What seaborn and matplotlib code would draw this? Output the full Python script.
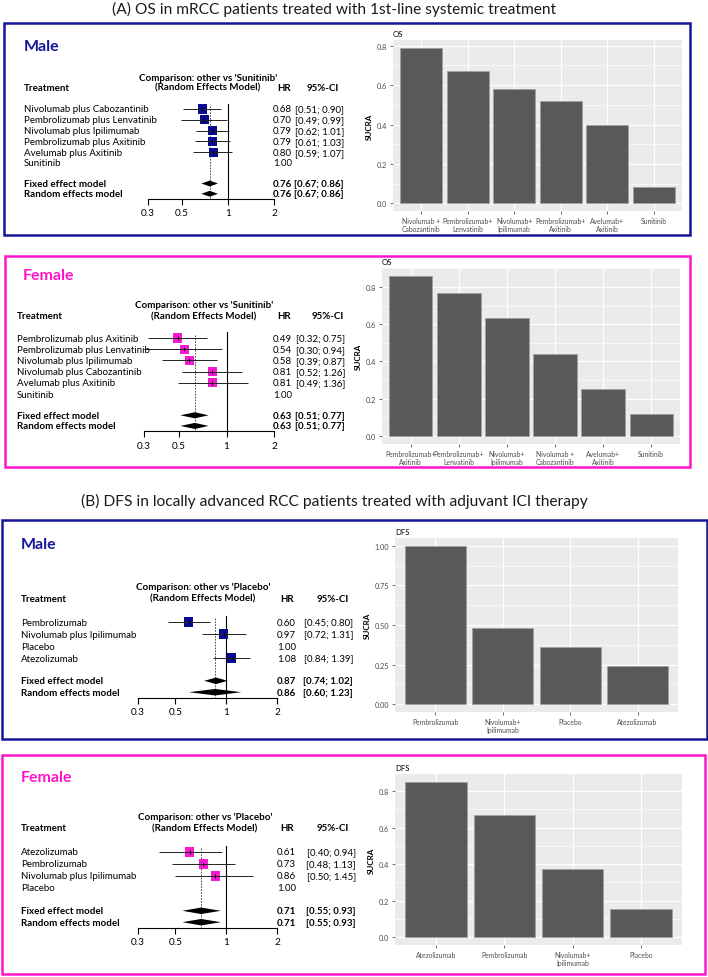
import numpy as np
import matplotlib
matplotlib.use("Agg")
import matplotlib.pyplot as plt
import matplotlib.transforms as mtransforms
from matplotlib.patches import Rectangle
from matplotlib.ticker import MultipleLocator, NullLocator, FormatStrFormatter
import seaborn as sns

W, H = 708, 978

# ---------------- forest plot data (HR, 95% CI) ----------------
os_male_trt = ["Nivolumab plus Cabozantinib", "Pembrolizumab plus Lenvatinib", "Nivolumab plus Ipilimumab",
               "Pembrolizumab plus Axitinib", "Avelumab plus Axitinib", "Sunitinib"]
os_male_hr = [0.68, 0.70, 0.79, 0.79, 0.80, 1.00]
os_male_lo = [0.51, 0.49, 0.62, 0.61, 0.59, np.nan]
os_male_hi = [0.90, 0.99, 1.01, 1.03, 1.07, np.nan]
os_male_fixed = [0.76, 0.67, 0.86]
os_male_random = [0.76, 0.67, 0.86]

os_female_trt = ["Pembrolizumab plus Axitinib", "Pembrolizumab plus Lenvatinib", "Nivolumab plus Ipilimumab",
                 "Nivolumab plus Cabozantinib", "Avelumab plus Axitinib", "Sunitinib"]
os_female_hr = [0.49, 0.54, 0.58, 0.81, 0.81, 1.00]
os_female_lo = [0.32, 0.30, 0.39, 0.52, 0.49, np.nan]
os_female_hi = [0.75, 0.94, 0.87, 1.26, 1.36, np.nan]
os_female_fixed = [0.63, 0.51, 0.77]
os_female_random = [0.63, 0.51, 0.77]

dfs_male_trt = ["Pembrolizumab", "Nivolumab plus Ipilimumab", "Placebo", "Atezolizumab"]
dfs_male_hr = [0.60, 0.97, 1.00, 1.08]
dfs_male_lo = [0.45, 0.72, np.nan, 0.84]
dfs_male_hi = [0.80, 1.31, np.nan, 1.39]
dfs_male_fixed = [0.87, 0.74, 1.02]
dfs_male_random = [0.86, 0.60, 1.23]

dfs_female_trt = ["Atezolizumab", "Pembrolizumab", "Nivolumab plus Ipilimumab", "Placebo"]
dfs_female_hr = [0.61, 0.73, 0.86, 1.00]
dfs_female_lo = [0.40, 0.48, 0.50, np.nan]
dfs_female_hi = [0.94, 1.13, 1.45, np.nan]
dfs_female_fixed = [0.71, 0.55, 0.93]
dfs_female_random = [0.71, 0.55, 0.93]

# ---------------- SUCRA bar data ----------------
os_male_sucra_lab = ["Nivolumab +\nCabozantinib", "Pembrolizumab+\nLenvatinib", "Nivolumab+\nIpilimumab",
                     "Pembrolizumab+\nAxitinib", "Avelumab+\nAxitinib", "Sunitinib"]
os_male_sucra = [0.79, 0.67, 0.578, 0.52, 0.40, 0.081]

os_female_sucra_lab = ["Pembrolizumab+\nAxitinib", "Pembrolizumab+\nLenvatinib", "Nivolumab+\nIpilimumab",
                       "Nivolumab +\nCabozantinib", "Avelumab+\nAxitinib", "Sunitinib"]
os_female_sucra = [0.859, 0.768, 0.635, 0.442, 0.25, 0.12]

dfs_male_sucra_lab = ["Pembrolizumab", "Nivolumab+\nIpilimumab", "Placebo", "Atezolizumab"]
dfs_male_sucra = [1.0, 0.48, 0.36, 0.24]

dfs_female_sucra_lab = ["Atezolizumab", "Pembrolizumab", "Nivolumab+\nIpilimumab", "Placebo"]
dfs_female_sucra = [0.851, 0.667, 0.376, 0.155]

NAVY = "#16169a"
MAGENTA = "#ff14cc"

plt.rcParams["font.family"] = ["Lato", "DejaVu Sans"]
fig = plt.figure(figsize=(W / 100, H / 100), dpi=100)


def box(x0, y0, x1, y1, color):
    fig.add_artist(Rectangle((x0 / W, 1 - y1 / H), (x1 - x0) / W, (y1 - y0) / H,
                             transform=fig.transFigure, fill=False, ec=color, lw=1.8))


def forest(trt, hr, lo, hi, fixed, random, ref, sq_color, title, title_color, lay):
    n = len(trt)
    x03, x2, row0, sp = lay["x03"], lay["x2"], lay["row0"], lay["sp"]
    bottom_row = n + 2.3
    top_px = row0 - 0.5 * sp
    bot_px = row0 + bottom_row * sp
    ax = fig.add_axes([x03 / W, 1 - bot_px / H, (x2 - x03) / W, (bot_px - top_px) / H])
    ax.set_xscale("log")
    ax.set_xlim(0.3, 2)
    ax.set_ylim(bottom_row, -0.5)
    ax.patch.set_alpha(0)

    rows = np.arange(n)
    fr, rr = n + 0.9, n + 1.85

    # reference line and pooled (random) estimate line
    ax.plot([1, 1], [-0.5, bottom_row], color="black", lw=0.8, clip_on=False)
    ax.plot([random[0]] * 2, [-0.3, bottom_row], color="#333333", lw=0.6, ls=(0, (2, 1.5)), clip_on=False)

    # CIs and squares
    ax.hlines(rows, lo, hi, color="#222222", lw=0.7, zorder=3, clip_on=False)
    mask = ~np.isnan(np.array(lo, dtype=float))
    sns.scatterplot(x=np.array(hr)[mask], y=rows[mask], marker="s", s=42, color=sq_color,
                    edgecolor="none", ax=ax, legend=False, zorder=2, clip_on=False)
    ax.scatter(np.array(hr)[mask], rows[mask], marker="|", s=10, color="black", lw=0.6, zorder=4)

    # diamonds
    for est, y in ((fixed, fr), (random, rr)):
        ax.fill([est[1], est[0], est[2], est[0]], [y, y - 0.27, y, y + 0.27],
                color="black", lw=0, clip_on=False, zorder=3)

    # axis
    for s in ("top", "left", "right"):
        ax.spines[s].set_visible(False)
    ax.spines["bottom"].set_bounds(0.3, 2)
    ax.spines["bottom"].set_linewidth(0.8)
    ax.set_xticks([0.3, 0.5, 1, 2])
    ax.set_xticklabels(["0.3", "0.5", "1", "2"])
    ax.xaxis.set_minor_locator(NullLocator())
    ax.tick_params(axis="x", length=4, width=0.8, labelsize=7.2, pad=3)
    ax.set_yticks([])

    tr = mtransforms.blended_transform_factory(fig.transFigure, ax.transData)
    fs = 7.0
    # headers
    ax.text(lay["cmp"] / W, -2.95, "Comparison: other vs '%s'" % ref, transform=tr, ha="center",
            va="center", fontsize=fs, fontweight="bold")
    ax.text(lay["cmp"] / W, -2.0, "(Random Effects Model)", transform=tr, ha="center",
            va="center", fontsize=fs, fontweight="bold")
    ax.text(lay["lab"] / W, -2.0, "Treatment", transform=tr, ha="left", va="center",
            fontsize=fs, fontweight="bold")
    ax.text(lay["hdr_hr"] / W, -2.0, "HR", transform=tr, ha="center", va="center",
            fontsize=fs, fontweight="bold")
    ax.text(lay["hdr_ci"] / W, -2.0, "95%-CI", transform=tr, ha="center", va="center",
            fontsize=fs, fontweight="bold")
    # rows
    for i in range(n):
        ax.text(lay["lab"] / W, i, trt[i], transform=tr, ha="left", va="center", fontsize=fs)
        ax.text(lay["hr"] / W, i, "%.2f" % hr[i], transform=tr, ha="right", va="center", fontsize=fs)
        if not np.isnan(lo[i]):
            ax.text(lay["ci"] / W, i, "[%.2f; %.2f]" % (lo[i], hi[i]), transform=tr, ha="right",
                    va="center", fontsize=fs)
    for name, est, y in (("Fixed effect model", fixed, fr), ("Random effects model", random, rr)):
        ax.text(lay["lab"] / W, y, name, transform=tr, ha="left", va="center", fontsize=fs,
                fontweight="bold")
        ax.text(lay["hr"] / W, y, "%.2f" % est[0], transform=tr, ha="right", va="center",
                fontsize=fs, fontweight="bold")
        ax.text(lay["ci"] / W, y, "[%.2f; %.2f]" % (est[1], est[2]), transform=tr, ha="right",
                va="center", fontsize=fs, fontweight="bold")
    fig.text(lay["tx"] / W, 1 - lay["ty"] / H, title, color=title_color, fontsize=11.5,
             fontweight="bold", ha="left", va="center")


def sucra_bar(labels, vals, title, rect, step):
    l, t, r, b = rect
    ax = fig.add_axes([l / W, 1 - b / H, (r - l) / W, (b - t) / H])
    sns.barplot(x=labels, y=vals, color="#595959", width=0.9, saturation=1,
                edgecolor="#a0a0a0", linewidth=0.6, ax=ax, zorder=3)
    n = len(vals)
    mx = max(vals)
    ax.set_xlim(-0.6, n - 0.4)
    ax.set_ylim(-0.05 * mx, 1.05 * mx)
    ax.set_facecolor("#ebebeb")
    ax.yaxis.set_major_locator(MultipleLocator(step))
    ax.yaxis.set_minor_locator(MultipleLocator(step / 2))
    ax.yaxis.set_major_formatter(FormatStrFormatter("%.2f" if step == 0.25 else "%.1f"))
    ax.grid(which="major", color="white", lw=0.9)
    ax.grid(which="minor", axis="y", color="white", lw=0.45)
    ax.set_axisbelow(True)
    for s in ax.spines.values():
        s.set_visible(False)
    ax.tick_params(which="major", length=2, width=0.5, color="#333333", labelsize=5.3,
                   labelcolor="#4d4d4d", pad=2)
    ax.tick_params(axis="x", labelsize=4.9)
    ax.tick_params(which="minor", length=0)
    ax.set_xlabel("")
    ax.set_ylabel("SUCRA", fontsize=5.8, fontweight="bold", labelpad=3)
    ax.set_title(title, loc="left", fontsize=5.6, pad=3)


# section titles
fig.text(334 / W, 1 - 9 / H, "(A) OS in mRCC patients treated with 1st-line systemic treatment",
         ha="center", va="center", fontsize=11.2, color="#1a1a1a")
fig.text(334 / W, 1 - 501 / H,
         "(B) DFS in locally advanced RCC patients treated with adjuvant ICI therapy",
         ha="center", va="center", fontsize=11.2, color="#1a1a1a")

# frames
box(4, 24, 690, 236, NAVY)
box(5, 257, 690, 468, MAGENTA)
box(2, 521, 707, 740, NAVY)
box(2, 756, 705, 975, MAGENTA)

forest(os_male_trt, os_male_hr, os_male_lo, os_male_hi, os_male_fixed, os_male_random,
       "Sunitinib", "#0b0b8f", "Male", NAVY,
       dict(x03=148, x2=274, row0=110, sp=10.8, lab=24, cmp=208, hr=292, ci=344,
            hdr_hr=284, hdr_ci=323, tx=24, ty=47))
forest(os_female_trt, os_female_hr, os_female_lo, os_female_hi, os_female_fixed, os_female_random,
       "Sunitinib", "#f21bd0", "Female", MAGENTA,
       dict(x03=144, x2=274, row0=339, sp=11.2, lab=17, cmp=204, hr=292, ci=345,
            hdr_hr=284, hdr_ci=328, tx=23, ty=276))
forest(dfs_male_trt, dfs_male_hr, dfs_male_lo, dfs_male_hi, dfs_male_fixed, dfs_male_random,
       "Placebo", "#0b0b8f", "Male", NAVY,
       dict(x03=138, x2=277, row0=623, sp=12, lab=21, cmp=203, hr=296, ci=353,
            hdr_hr=287, hdr_ci=333, tx=21, ty=545))
forest(dfs_female_trt, dfs_female_hr, dfs_female_lo, dfs_female_hi, dfs_female_fixed,
       dfs_female_random, "Placebo", "#f21bd0", "Female", MAGENTA,
       dict(x03=138, x2=277, row0=853, sp=12, lab=21, cmp=205, hr=296, ci=356,
            hdr_hr=287, hdr_ci=333, tx=21, ty=778))

sucra_bar(os_male_sucra_lab, os_male_sucra, "OS", (393, 41, 682, 212), 0.2)
sucra_bar(os_female_sucra_lab, os_female_sucra, "OS", (382, 269, 680, 445), 0.2)
sucra_bar(dfs_male_sucra_lab, dfs_male_sucra, "DFS", (395, 539, 678, 713), 0.25)
sucra_bar(dfs_female_sucra_lab, dfs_female_sucra, "DFS", (395, 775, 682, 946), 0.2)

fig.savefig("out.png", dpi=100)
